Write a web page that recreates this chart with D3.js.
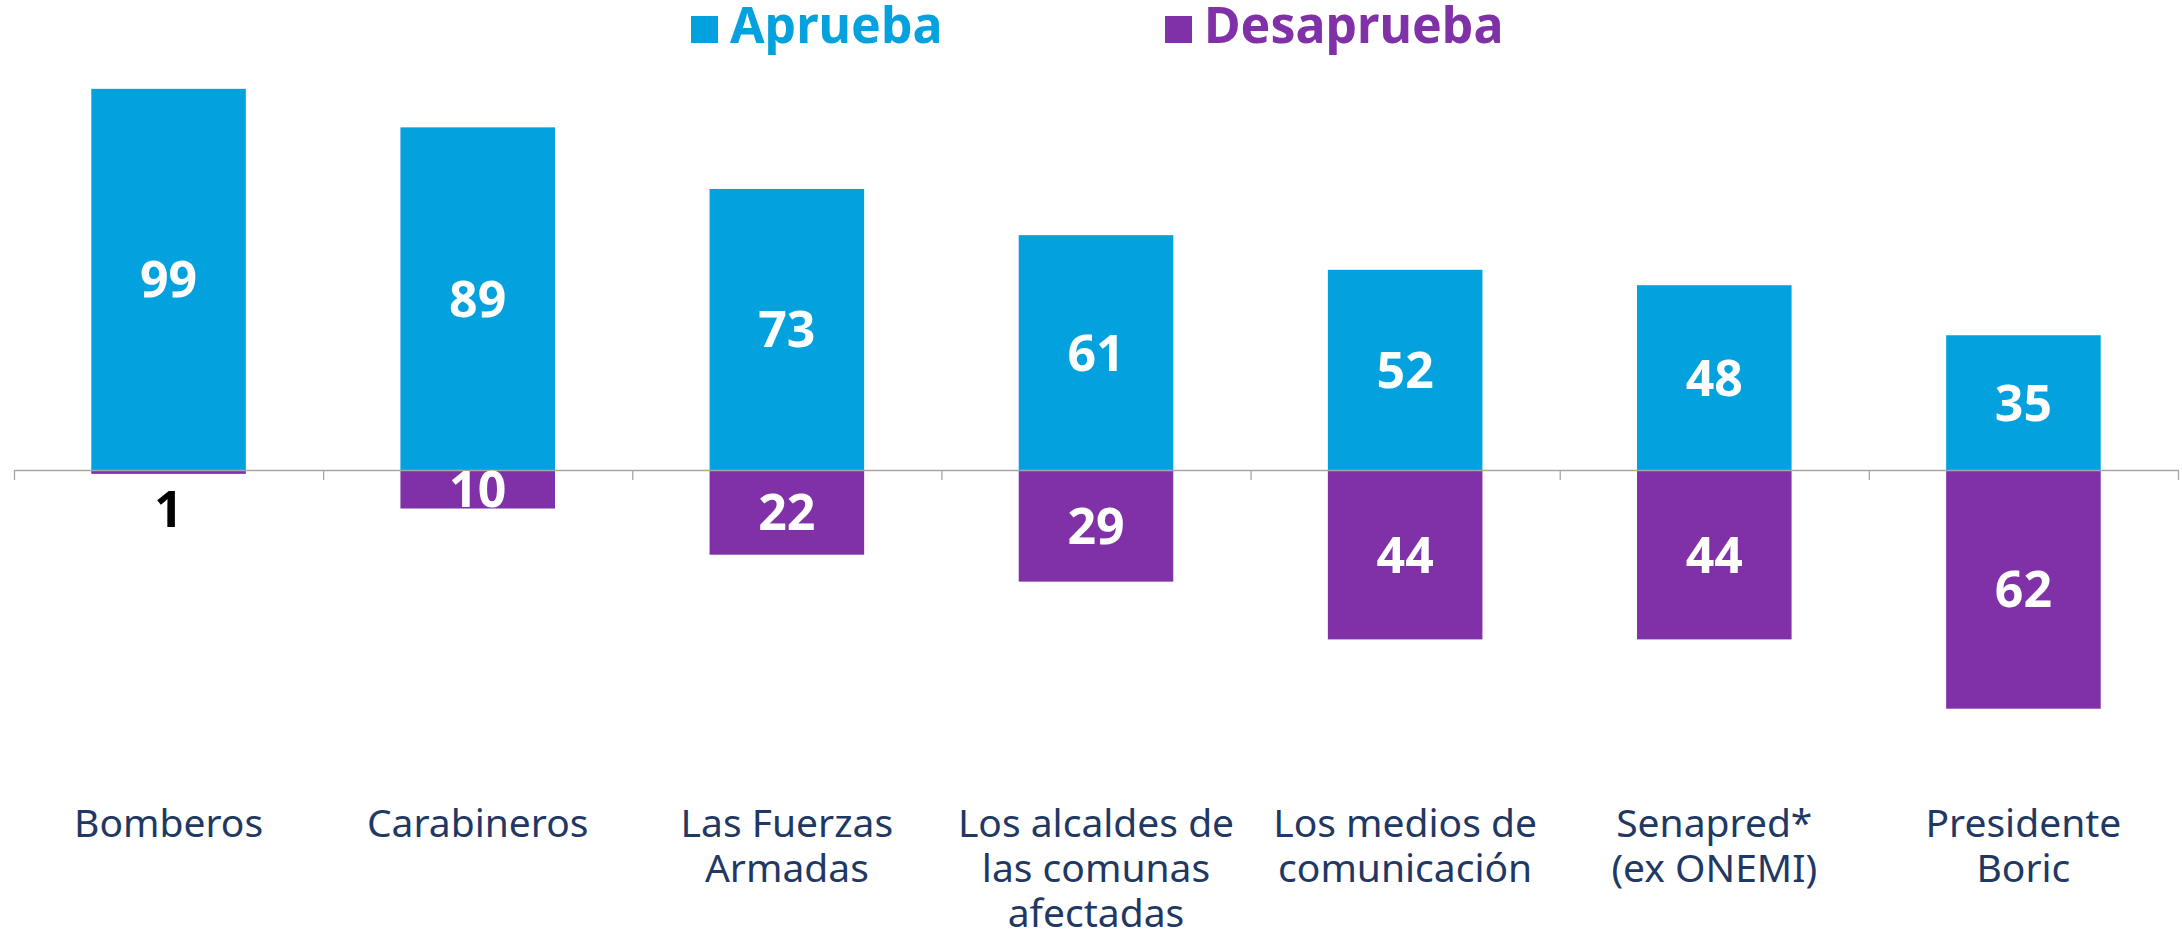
<!DOCTYPE html>
<html lang="es">
<head>
    <meta charset="UTF-8">
    <title>Aprueba / Desaprueba</title>
    <style>
        body { margin: 0; background: #fff; }
    </style>
</head>
<body>
<script src="https://d3js.org/d3.v7.min.js"></script>
<script>
    let w = 2182, h = 931;

    // datos
    let categorias = ["Bomberos", "Carabineros", "Las Fuerzas\nArmadas", "Los alcaldes de\nlas comunas\nafectadas",
        "Los medios de\ncomunicación", "Senapred*\n(ex ONEMI)", "Presidente\nBoric"];
    let aprueba = [99, 89, 73, 61, 52, 48, 35];
    let desaprueba = [1, 10, 22, 29, 44, 44, 62];
    let series = ["Aprueba", "Desaprueba"];
    let colores = ["#03a2df", "#8031a7"];

    let font = "'Noto Sans', sans-serif";
    let zeroY = 470, left = 14, right = 2178;

    let svg = d3.select("body")
        .append("svg")
        .attr("width", w)
        .attr("height", h);

    let x = d3.scaleBand()
        .domain(categorias)
        .range([left, right])
        .paddingInner(0.5)
        .paddingOuter(0.25);

    let y = d3.scaleLinear()
        .domain([-70, 100])
        .range([zeroY + 70 * 3.85, zeroY - 100 * 3.85]);

    // barras positivas
    svg.selectAll("rect.ap")
        .data(aprueba)
        .enter()
        .append("rect")
        .attr("class", "ap")
        .attr("x", (d, i) => x(categorias[i]))
        .attr("width", x.bandwidth())
        .attr("y", d => y(d))
        .attr("height", d => y(0) - y(d))
        .attr("fill", colores[0]);

    // barras negativas
    svg.selectAll("rect.des")
        .data(desaprueba)
        .enter()
        .append("rect")
        .attr("class", "des")
        .attr("x", (d, i) => x(categorias[i]))
        .attr("width", x.bandwidth())
        .attr("y", y(0))
        .attr("height", d => y(-d) - y(0))
        .attr("fill", colores[1]);

    // eje con marcas entre categorias
    let xt = d3.scaleLinear().domain([0, categorias.length]).range([left, right]);
    let axis = svg.append("g")
        .attr("transform", "translate(0," + zeroY + ")")
        .call(d3.axisBottom(xt).tickValues(d3.range(categorias.length + 1)).tickSize(10).tickSizeOuter(0).tickFormat(""));
    axis.selectAll("line, path").attr("stroke", "#a6a6a6").attr("stroke-width", 1.3);

    // etiquetas de valores
    svg.selectAll("text.vap")
        .data(aprueba)
        .enter()
        .append("text")
        .attr("class", "vap")
        .attr("x", (d, i) => x(categorias[i]) + x.bandwidth() / 2)
        .attr("y", d => (y(d) + y(0)) / 2)
        .attr("dy", "0.36em")
        .attr("text-anchor", "middle")
        .style("font-family", font)
        .style("font-weight", 700)
        .style("font-size", "50px")
        .attr("fill", "#fff")
        .text(d => d);

    svg.selectAll("text.vdes")
        .data(desaprueba)
        .enter()
        .append("text")
        .attr("class", "vdes")
        .attr("x", (d, i) => x(categorias[i]) + x.bandwidth() / 2)
        .attr("y", d => d < 5 ? y(-d) + 35 : (y(-d) + y(0)) / 2)
        .attr("dy", "0.36em")
        .attr("text-anchor", "middle")
        .style("font-family", font)
        .style("font-weight", 700)
        .style("font-size", "50px")
        .attr("fill", d => d < 5 ? "#000" : "#fff")
        .text(d => d);

    // nombres de categorias
    let cat = svg.selectAll("text.cat")
        .data(categorias)
        .enter()
        .append("text")
        .attr("class", "cat")
        .attr("text-anchor", "middle")
        .style("font-family", font)
        .style("font-size", "39px")
        .attr("fill", "#1f3864");
    cat.selectAll("tspan")
        .data(d => d.split("\n").map(t => ({t: t, c: d})))
        .enter()
        .append("tspan")
        .attr("x", d => x(d.c) + x.bandwidth() / 2)
        .attr("y", (d, i) => 837 + i * 45)
        .text(d => d.t);

    // leyenda
    let legX = [691, 1165];
    let leg = svg.selectAll("g.leg")
        .data(series)
        .enter()
        .append("g")
        .attr("class", "leg")
        .attr("transform", (d, i) => "translate(" + legX[i] + ",0)");
    leg.append("rect")
        .attr("x", 0)
        .attr("y", 16)
        .attr("width", 27)
        .attr("height", 27)
        .attr("fill", (d, i) => colores[i]);
    leg.append("text")
        .attr("x", 39)
        .attr("y", 43)
        .style("font-family", font)
        .style("font-weight", 700)
        .style("font-size", "50px")
        .attr("fill", (d, i) => colores[i])
        .text(d => d);
</script>
</body>
</html>
